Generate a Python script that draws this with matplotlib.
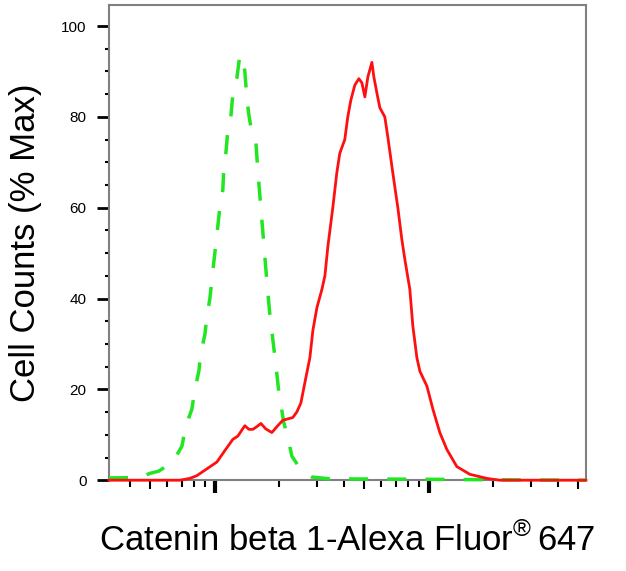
import matplotlib
matplotlib.use("Agg")
import matplotlib.pyplot as plt
from matplotlib.ticker import FixedLocator, NullFormatter

plt.rcParams['font.family'] = ['Liberation Sans', 'DejaVu Sans']
plt.rcParams['mathtext.fontset'] = 'custom'
plt.rcParams['mathtext.rm'] = 'Liberation Sans'

# isotype control (green dashed) - intensity vs % max
iso_x = [32, 44.7, 49.7, 54.7, 63.6, 70.2, 73.2, 78.1, 80.7, 84.2, 86.0, 89.8, 91.8,
         94.8, 96.8, 98.9, 101.1, 103.3, 105.5, 109.0, 110.2, 112.6, 115.0, 118.8,
         121.4, 126.7, 130.9, 135.2, 138.1, 141.2, 144.2, 147.3, 152.1, 155.5, 158.9,
         164.1, 169.4, 174.9, 180.7, 186.6, 192.7, 199.0, 210.0, 219.3, 229.0, 255.2,
         284, 344.5, 1000, 2000, 5420]
iso_y = [0.5, 0.6, 1.5, 2, 4, 7.5, 12, 15.6, 20, 24, 28, 32, 36,
         40, 44, 48, 52, 56, 60, 64, 69, 72, 77, 80,
         85, 88.5, 93.6, 92.5, 90, 84, 80.5, 77.8, 76.5, 74.5, 68,
         60, 52, 44, 36.5, 31, 25.5, 19.5, 12.7, 9.5, 5.3, 2,
         0.7, 0.3, 0.2, 0.1, 0]

# Catenin beta 1 stained (red solid)
stain_x = [32, 68.6, 76.4, 82.4, 91.8, 102.2, 111.3, 121.4, 128.0, 133.6, 138.1, 144.2,
           150.6, 157.2, 164.1, 173.0, 184.7, 196.8, 207.8, 231.3, 241.5, 252.4, 263.5,
           278.1, 287.2, 299.9, 316.4, 326.8, 337.5, 355.8, 371.5, 383.7, 404.7, 418.0,
           432.1, 451, 471, 486.5, 502.4, 518.9, 541.8, 553.4, 571.6, 590.3, 622.6, 643,
           678.5, 716.3, 747.9, 772.6, 815.2, 841.6, 879.0, 907.9, 979.6, 1045, 1125,
           1213, 1351, 1555, 1867, 2148, 5420]
stain_y = [0, 0, 0.4, 1, 2.5, 4, 6.5, 9, 9.7, 11, 12, 11.2,
           11.2, 11.8, 12.5, 11.3, 10.5, 12, 13.2, 13.8, 15, 17, 21.5,
           27, 33, 38, 42, 45, 51.5, 60, 67.7, 72, 75, 80,
           83.7, 87, 88.4, 87.5, 84.4, 88.8, 92, 88.8, 85.3, 82, 80, 75.6,
           67.7, 60, 53, 48.6, 42, 34, 27, 24, 20.7, 15.6, 10.5,
           6.8, 3, 1.3, 0.4, 0, 0]

fig = plt.figure(figsize=(6.26, 5.71), dpi=100)
ax = fig.add_axes([0.174, 0.159, 0.762, 0.832])

ax.plot(iso_x, iso_y, color='#22e622', lw=2.5, dashes=(5.5, 5.5), zorder=3, clip_on=False)
ax.plot(stain_x, stain_y, color='#ff1010', lw=2.0, zorder=4, clip_on=False)

ax.set_xscale('log')
ax.set_xlim(32, 5420)
ax.set_ylim(0, 104.6)

for s in ax.spines.values():
    s.set_color('#808080')
    s.set_linewidth(1.5)

# y ticks
ax.yaxis.set_major_locator(FixedLocator([0, 20, 40, 60, 80, 100]))
ax.yaxis.set_minor_locator(FixedLocator([5, 10, 15, 25, 30, 35, 45, 50, 55, 65, 70, 75,
                                         85, 90, 95, 105]))
ax.tick_params(axis='y', which='major', length=9, width=2, labelsize=11, pad=7)
ax.tick_params(axis='y', which='minor', length=3, width=1.5)

# x ticks: log decades, no labels
ax.xaxis.set_major_locator(FixedLocator([100, 1000]))
minor_x = [40, 50, 60, 70, 80, 90, 200, 300, 400, 500, 600, 700, 800, 900,
           2000, 3000, 4000, 5000]
ax.xaxis.set_minor_locator(FixedLocator(minor_x))
ax.xaxis.set_major_formatter(NullFormatter())
ax.xaxis.set_minor_formatter(NullFormatter())
ax.tick_params(axis='x', which='major', length=9, width=3)
ax.tick_params(axis='x', which='minor', length=5, width=1.5)
for t, loc in zip(ax.xaxis.get_minor_ticks(), minor_x):
    if str(loc)[0] == '5':
        t.tick1line.set_markersize(6.5)

ax.set_ylabel('Cell Counts (% Max)', fontsize=25, labelpad=14)
ax.set_xlabel('Catenin beta 1-Alexa Fluor$^{\\mathrm{\u00ae}}\\,$647', fontsize=25, labelpad=18)

fig.savefig('out.png', dpi=100)
